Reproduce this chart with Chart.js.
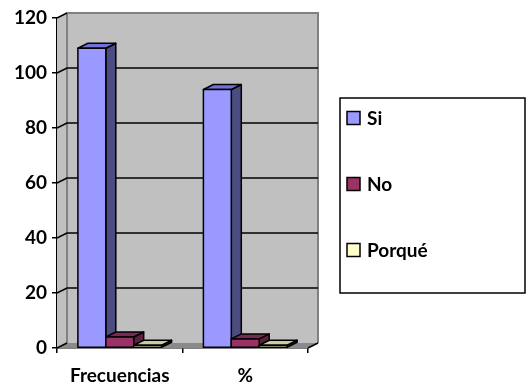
<!DOCTYPE html>
<html>
<head>
<meta charset="utf-8">
<script src="https://cdn.jsdelivr.net/npm/chart.js@4.4.1/dist/chart.umd.min.js"></script>
<style>
  html, body { margin: 0; padding: 0; background: #ffffff; }
  #wrap { width: 526px; height: 383px; position: relative; }
</style>
</head>
<body>
<div id="wrap"><canvas id="c" width="526" height="383"></canvas></div>
<script>
// Categories, series and axis ticks
const categories = ['Frecuencias', '%'];
const seriesNames = ['Si', 'No', 'Porqué'];
const siValues = [109, 94];
const noValues = [4, 3.3];
const porqueValues = [1, 1];
const yTicks = [0, 20, 40, 60, 80, 100, 120];

// Face colours for each series: front, top, side
const seriesFaces = [
  { front: '#9999ff', top: '#7272d6', side: '#4c4c80' },
  { front: '#993366', top: '#7a2952', side: '#5c1f3d' },
  { front: '#ffffcc', top: '#cccca3', side: '#99997a' }
];

const FONT_FAMILY = 'Lato, "Open Sans", sans-serif';
const FONT_SIZE = 19;
const DX = 10, DY = -5;          // 3D depth offset

// Legend frame and rows
const LEGEND_BOX = { left: 340, top: 98, right: 525, bottom: 293 };
const LEGEND_KEY = 13;
const LEGEND_KEY_X = 347;
const LEGEND_TEXT_X = 367;
const LEGEND_FIRST_Y = 118;
const LEGEND_STEP = 66;

function poly(ctx, pts) {
  ctx.beginPath();
  ctx.moveTo(pts[0][0], pts[0][1]);
  for (let i = 1; i < pts.length; i++) ctx.lineTo(pts[i][0], pts[i][1]);
  ctx.closePath();
}

// Walls, floor and gridlines behind the bars; 3D boxes over the bar elements; boxed legend
const box3d = {
  id: 'box3d',
  beforeDatasetsDraw(chart) {
    const { ctx, chartArea } = chart;
    const L = chartArea.left, R = chartArea.right, T = chartArea.top, B = chartArea.bottom;
    const ys = chart.scales.y;
    ctx.save();
    ctx.fillStyle = '#c0c0c0';
    poly(ctx, [[L, T], [L + DX, T + DY], [L + DX, B + DY], [L, B]]);
    ctx.fill();
    ctx.fillRect(L + DX, T + DY, R - L, B - T);
    ctx.fillStyle = '#8a8a8a';
    poly(ctx, [[L, B], [L + DX, B + DY], [R + DX, B + DY], [R, B]]);
    ctx.fill();

    // wall borders
    ctx.strokeStyle = '#808080';
    ctx.lineWidth = 2;
    ctx.beginPath();
    ctx.moveTo(L + DX, B + DY);
    ctx.lineTo(L + DX, T + DY);
    ctx.lineTo(R + DX, T + DY);
    ctx.lineTo(R + DX, B + DY);
    ctx.stroke();

    // gridlines along side and back walls
    ctx.strokeStyle = '#000000';
    ctx.lineWidth = 1.5;
    yTicks.forEach(v => {
      if (v === 0) return;
      const py = ys.getPixelForValue(v);
      ctx.beginPath();
      ctx.moveTo(L, py);
      ctx.lineTo(L + DX, py + DY);
      if (v !== yTicks[yTicks.length - 1]) ctx.lineTo(R + DX, py + DY);
      ctx.stroke();
    });
    // floor edges
    ctx.beginPath();
    ctx.moveTo(L, B);
    ctx.lineTo(L + DX, B + DY);
    ctx.moveTo(R, B);
    ctx.lineTo(R + DX, B + DY);
    ctx.stroke();
    ctx.restore();
  },
  afterDatasetsDraw(chart) {
    const { ctx } = chart;
    ctx.save();
    ctx.strokeStyle = '#000000';
    ctx.lineWidth = 1.5;
    ctx.lineJoin = 'round';
    chart.data.datasets.forEach((ds, di) => {
      const meta = chart.getDatasetMeta(di);
      const f = seriesFaces[di];
      meta.data.forEach(el => {
        const p = el.getProps(['x', 'y', 'base', 'width'], true);
        const x0 = p.x - p.width / 2, x1 = p.x + p.width / 2;
        const yt = p.y, yb = p.base;
        ctx.fillStyle = f.side;
        poly(ctx, [[x1, yt], [x1 + DX, yt + DY], [x1 + DX, yb + DY], [x1, yb]]);
        ctx.fill(); ctx.stroke();
        ctx.fillStyle = f.top;
        poly(ctx, [[x0, yt], [x0 + DX, yt + DY], [x1 + DX, yt + DY], [x1, yt]]);
        ctx.fill(); ctx.stroke();
        ctx.fillStyle = f.front;
        poly(ctx, [[x0, yt], [x1, yt], [x1, yb], [x0, yb]]);
        ctx.fill(); ctx.stroke();
      });
    });
    ctx.restore();
  },
  afterDraw(chart) {
    const ctx = chart.ctx;
    ctx.save();
    ctx.fillStyle = '#ffffff';
    ctx.fillRect(LEGEND_BOX.left, LEGEND_BOX.top, LEGEND_BOX.right - LEGEND_BOX.left, LEGEND_BOX.bottom - LEGEND_BOX.top);
    ctx.strokeStyle = '#000000';
    ctx.lineWidth = 1.5;
    ctx.strokeRect(LEGEND_BOX.left, LEGEND_BOX.top, LEGEND_BOX.right - LEGEND_BOX.left, LEGEND_BOX.bottom - LEGEND_BOX.top);
    ctx.font = 'bold ' + FONT_SIZE + 'px ' + FONT_FAMILY;
    ctx.textBaseline = 'middle';
    ctx.textAlign = 'left';
    chart.data.datasets.forEach((ds, di) => {
      const cy = LEGEND_FIRST_Y + di * LEGEND_STEP;
      ctx.fillStyle = seriesFaces[di].front;
      ctx.fillRect(LEGEND_KEY_X, cy - LEGEND_KEY / 2, LEGEND_KEY, LEGEND_KEY);
      ctx.strokeRect(LEGEND_KEY_X, cy - LEGEND_KEY / 2, LEGEND_KEY, LEGEND_KEY);
      ctx.fillStyle = '#000000';
      ctx.fillText(ds.label, LEGEND_TEXT_X, cy + 1);
    });
    ctx.restore();
  }
};

const tickFont = { family: FONT_FAMILY, size: FONT_SIZE, weight: 'bold' };

new Chart(document.getElementById('c'), {
  type: 'bar',
  data: {
    labels: categories,
    datasets: [
      { label: seriesNames[0], data: siValues, backgroundColor: seriesFaces[0].front, borderWidth: 0 },
      { label: seriesNames[1], data: noValues, backgroundColor: seriesFaces[1].front, borderWidth: 0 },
      { label: seriesNames[2], data: porqueValues, backgroundColor: seriesFaces[2].front, borderWidth: 0 }
    ]
  },
  options: {
    responsive: false,
    animation: false,
    events: [],
    layout: { padding: { left: 0, top: 18, right: 218, bottom: 0 } },
    datasets: { bar: { categoryPercentage: 0.667, barPercentage: 1 } },
    scales: {
      x: {
        afterFit: s => { s.height = 35; },
        grid: { display: true, drawOnChartArea: false, drawTicks: true, tickLength: 5, color: '#000', lineWidth: 1.5 },
        border: { display: true, color: '#000', width: 1.5 },
        ticks: { font: tickFont, color: '#000', padding: 11, maxRotation: 0 }
      },
      y: {
        min: 0, max: 120,
        afterFit: s => { s.width = 57; },
        afterBuildTicks: s => { s.ticks = yTicks.map(v => ({ value: v })); },
        grid: { display: true, drawOnChartArea: false, drawTicks: true, tickLength: 5, color: '#000', lineWidth: 1.5 },
        border: { display: true, color: '#000', width: 1.5 },
        ticks: { font: tickFont, color: '#000', padding: 5 }
      }
    },
    plugins: {
      tooltip: { enabled: false },
      legend: { display: false }
    }
  },
  plugins: [box3d]
});
</script>
</body>
</html>
